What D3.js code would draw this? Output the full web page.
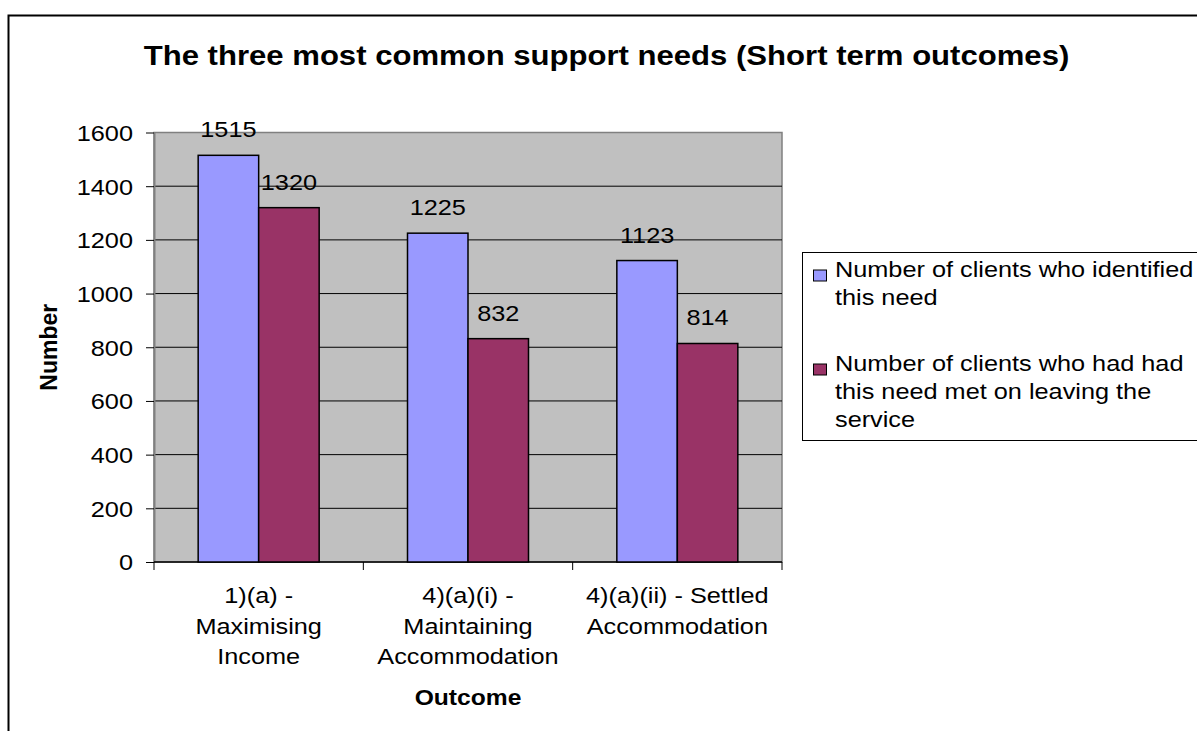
<!DOCTYPE html>
<html><head><meta charset="utf-8">
<script src="https://cdn.jsdelivr.net/npm/d3@7"></script>
<style>
html,body{margin:0;padding:0;background:#fff;}
svg{display:block;font-family:"Liberation Sans",Arial,sans-serif;}
</style></head>
<body>
<svg id="chart" width="1197" height="731"></svg>
<script>
const categories = [
  ["1)(a) -", "Maximising", "Income"],
  ["4)(a)(i) -", "Maintaining", "Accommodation"],
  ["4)(a)(ii) - Settled", "Accommodation"]
];
const seriesNames = [
  ["Number of clients who identified", "this need"],
  ["Number of clients who had had", "this need met on leaving the", "service"]
];
const identified = [1515, 1225, 1123];
const met = [1320, 832, 814];
const yTicks = [0, 200, 400, 600, 800, 1000, 1200, 1400, 1600];
const colors = ["#9999FF", "#993366"];
const titleText = "The three most common support needs (Short term outcomes)";
const xTitle = "Outcome";
const yTitle = "Number";

const SX = 1.15, FS = 22;
const svg = d3.select("#chart");
svg.append("rect").attr("width",1197).attr("height",731).attr("fill","#fff");
// outer chart border
svg.append("rect").attr("x",8.5).attr("y",15.5).attr("width",1220).attr("height",760)
  .attr("fill","none").attr("stroke","#000").attr("stroke-width",2);

const plot = {l:154, r:782, t:132.5, b:562};
const y = d3.scaleLinear().domain([0,1600]).range([plot.b, plot.t]);
const catKeys = categories.map((c,i)=>i);
const x0 = d3.scaleBand().domain(catKeys).range([plot.l, plot.r]).paddingInner(0).paddingOuter(0);
const pad = x0.bandwidth()*0.211;
const x1 = d3.scaleBand().domain([0,1]).range([pad, x0.bandwidth()-pad]);

function stext(g, x, yy, str, opts={}) {
  const t = g.append("text")
    .attr("transform", `translate(${x},${yy}) scale(${opts.sx||SX},1)`)
    .attr("font-size", opts.fs||FS)
    .attr("font-weight", opts.bold?"bold":"normal")
    .attr("text-anchor", opts.anchor||"middle")
    .attr("fill","#000")
    .text(str);
  return t;
}

// plot background
svg.append("rect").attr("x",plot.l).attr("y",plot.t).attr("width",plot.r-plot.l).attr("height",plot.b-plot.t)
  .attr("fill","#C0C0C0").attr("stroke","#808080").attr("stroke-width",1.5);

// gridlines
svg.append("g").selectAll("line").data(yTicks.filter(v=>v>0 && v<1600)).join("line")
  .attr("x1",plot.l).attr("x2",plot.r).attr("y1",d=>y(d)).attr("y2",d=>y(d))
  .attr("stroke","#000").attr("stroke-width",1);

// y axis
const yAxis = svg.append("g").attr("transform",`translate(${plot.l},0)`)
  .call(d3.axisLeft(y).tickValues(yTicks).tickFormat(d3.format("d")).tickSize(8).tickSizeOuter(0));
yAxis.select(".domain").attr("stroke","#808080").attr("stroke-width",2);
yAxis.selectAll(".tick line").attr("stroke","#000").attr("stroke-width",1);
yAxis.selectAll(".tick text").attr("x",null).attr("dy","0.36em")
  .attr("transform",`translate(-21,0) scale(${SX},1)`)
  .attr("font-size",FS).attr("font-family","Liberation Sans, Arial, sans-serif").attr("fill","#000");

// x axis
const xAxisG = svg.append("g").attr("transform",`translate(0,${plot.b})`);
xAxisG.append("line").attr("x1",plot.l).attr("x2",plot.r).attr("stroke","#000").attr("stroke-width",1.5);
const bounds = catKeys.map(k=>x0(k)).concat([plot.r]);
xAxisG.selectAll(".xt").data(bounds).join("line").attr("class","xt")
  .attr("x1",d=>d).attr("x2",d=>d).attr("y1",0).attr("y2",8).attr("stroke","#000");

// bars
const groups = svg.append("g").selectAll("g").data(catKeys).join("g")
  .attr("transform",k=>`translate(${x0(k)},0)`);
const vals = [identified, met];
groups.each(function(k){
  const g = d3.select(this);
  [0,1].forEach(s=>{
    const v = vals[s][k];
    g.append("rect").attr("x",x1(s)).attr("y",y(v)).attr("width",x1.bandwidth()).attr("height",y(0)-y(v))
      .attr("fill",colors[s]).attr("stroke","#000").attr("stroke-width",1.5);
    stext(g, x1(s)+x1.bandwidth()/2, y(v)-18, String(v));
  });
});

// category labels
const catG = svg.append("g");
categories.forEach((lines,k)=>{
  const cx = x0(k)+x0.bandwidth()/2;
  lines.forEach((ln,i)=> stext(catG, cx, 603 + i*30.5, ln));
});

// axis titles
stext(svg, (plot.l+plot.r)/2, 705, xTitle, {bold:true, sx:1.12});
svg.append("text").attr("transform",`translate(57,${(plot.t+plot.b)/2}) rotate(-90)`)
  .attr("text-anchor","middle").attr("font-size",23).attr("font-weight","bold").text(yTitle);

// title
stext(svg, 606.5, 65, titleText, {bold:true, fs:28, sx:1.11});

// legend
const lg = svg.append("g");
lg.append("rect").attr("x",802.5).attr("y",252.5).attr("width",420).attr("height",188)
  .attr("fill","#fff").attr("stroke","#000").attr("stroke-width",1);
const itemTop = [277, 371];
seriesNames.forEach((lines,s)=>{
  lg.append("rect").attr("x",813.5).attr("y",itemTop[s]-7).attr("width",13).attr("height",11)
    .attr("fill",colors[s]).attr("stroke","#000").attr("stroke-width",1);
  lines.forEach((ln,i)=> stext(lg, 835, itemTop[s] + i*28, ln, {anchor:"start"}));
});
</script>
</body></html>
